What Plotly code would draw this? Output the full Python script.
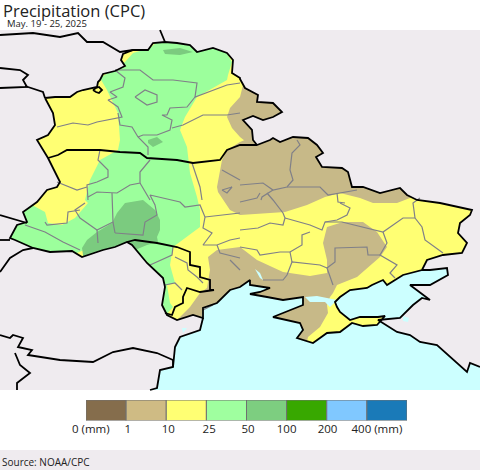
import plotly.graph_objects as go

# ---- text and legend data ----
TITLE = "Precipitation (CPC)"
SUBTITLE = "May. 19 - 25, 2025"
SOURCE = "Source: NOAA/CPC"
LEGEND_COLORS = ["#856D4C", "#CFBB84", "#FFFF73", "#9FFF9F", "#7DCE80", "#38A800", "#80C8FF", "#1A7AB8"]
LEGEND_TICKS = [0.12, 1.04, 2.05, 3.07, 4.04, 5.0, 6.02, 7.25]
LEGEND_LABELS = ["0 (mm)", "1", "10", "25", "50", "100", "200", "400 (mm)"]

LAND = "#EFEBEF"
SEA = "#CCFFFF"
YELLOW = "#FFFF73"
LGREEN = "#9CFF9C"
MGREEN = "#7BCB7F"
TAN = "#C7B988"
BORDER_GREY = "#808088"

# ---- map geometry (map units) ----
UA_LAND = [(45,98),(55,97),(70,97),(77,92),(83,90),(93,88),(97,87),(98,82),(100,80),(103,74),(115,71),(125,66),(121,60),(123,54),
 (133,50),(148,50),(153,43),(165,42),(177,43),(190,45),(197,52),(213,48),(227,53),(233,60),(232,73),(240,78),(240,79),(245,88),
 (258,95),(257,102),(273,103),(282,112),(273,117),(263,120),(253,116),(243,120),(252,130),(253,140),(257,145),(270,140),(273,138),
 (280,142),(293,137),(308,138),(317,145),(323,153),(316,157),(322,167),(342,168),(348,172),(352,187),(363,187),(380,193),(400,188),
 (407,195),(417,200),(440,203),(472,210),(470,215),(460,223),(458,233),(467,243),(462,253),(443,255),(427,260)]
UA_COAST = [(422,270),(403,275),(387,285),(383,280),(372,285),(367,288),(350,290),(347,292),(340,297),(335,302),(337,307),(340,312),
 (350,320),(360,317),(378,317),(385,316),(377,325),(363,326),(352,323),(340,332),(327,333),(313,343),(297,338),(303,330),(300,323),
 (273,317),(290,310),(303,305),(303,297),(283,300),(267,297),(250,294),(260,292),(270,288),(250,285),(250,280),(240,287),(230,290),
 (217,303),(203,308),(203,318),(193,315),(177,320),(167,315),(162,305)]
UA_WEST = [(165,287),(163,278),(147,263),(132,245),(127,242),(115,247),(103,250),(82,257),(72,251),(50,252),(33,248),(15,240),(10,238),
 (17,225),(27,222),(23,212),(37,202),(47,190),(57,187),(60,182),(48,158),(37,140),(48,135),(55,125),(53,113)]
WEST_SEA_COAST = [(150,390),(157,388),(160,370),(173,367),(175,347),(180,337),(200,330),(203,318)]
RU_COAST = [(430,270),(447,268),(448,275),(430,285),(410,285),(430,300),(422,298),(413,305),(400,318),(378,320),(397,332),(410,335),
 (420,342),(437,345),(467,372),(470,363),(480,367)]

# rainfall zones
ZONE_GREEN = [(100,78),(125,62),(133,53),(150,48),(165,35),(200,40),(225,50),(232,62),(228,75),(227,80),(197,97),(185,117),(180,130),
 (187,147),(190,173),(197,197),(200,210),(200,227),(173,247),(170,265),(175,283),(167,285),(170,303),(173,307),(165,316),(155,300),
 (150,265),(120,235),(60,260),(10,245),(5,235),(15,215),(32,205),(45,212),(48,223),(62,225),(75,218),(88,203),(85,200),(90,180),
 (100,160),(118,150),(120,140),(118,113),(107,90)]
ZONE_MID = [(83,255),(82,248),(87,240),(97,232),(112,223),(117,213),(125,203),(143,200),(155,210),(160,220),(160,230),(157,237),
 (158,242),(147,245),(135,250),(125,255),(85,265)]
ZONE_MID_N = [(163,50),(180,48),(193,52),(180,55),(165,54)]
ZONE_MID_C = [(148,140),(157,137),(163,142),(153,147),(148,143)]
ZONE_TAN_N = [(243,85),(240,97),(230,108),(227,117),(232,128),(240,137),(245,141),(260,160),(290,125),(265,85)]
ZONE_TAN_MAIN = [(240,142),(227,150),(222,160),(217,187),(218,192),(230,210),(240,215),(285,212),(307,205),(325,197),(340,193),(360,198),
 (373,203),(397,203),(410,198),(415,190),(380,170),(340,130),(280,125)]
ZONE_TAN_S = [(240,247),(257,260),(283,272),(310,276),(327,273),(327,260),(323,243),(327,227),(343,222),(363,222),(377,232),(387,247),
 (380,257),(357,277),(337,285),(333,293),(330,297),(327,305),(328,313),(320,327),(308,337),(305,350),(250,350),(180,330),(177,320),
 (190,307),(200,293),(207,288),(210,270),(208,257),(217,250)]

WATER_PATCHES = [
 [(305,297),(317,296),(327,298),(337,300),(330,307),(325,302),(310,302)],
 [(255,269),(260,273),(263,280),(260,278)],
 [(182,328),(187,328),(183,333)],
 [(403,316),(409,318),(408,322),(403,321)],
]

BLACK_LINES = [
 [(48,158),(58,155),(67,150),(100,150),(120,152),(140,153),(147,158),(177,160),(193,163),(220,160),(227,150),(240,145),(257,145)],
 [(127,242),(135,240),(157,243),(177,247),(190,252),(190,265),(200,267),(200,277),(210,280),(210,290),(214,290),(200,292),(187,288),
  (183,297),(183,303),(175,307),(172,315),(165,313)],
 [(0,35),(33,33),(60,37),(78,33),(87,42),(103,42),(120,52),(133,50)],
 [(160,30),(165,42)],
 [(0,68),(20,70),(28,75),(23,80),(27,87),(0,88)],
 [(25,86),(43,92),(45,98)],
 [(0,215),(10,218),(27,223)],
 [(0,240),(10,240)],
 [(0,272),(10,258),(23,250),(33,248)],
 [(0,335),(10,338),(13,335),(23,338),(18,347),(32,350),(28,355),(60,360),(93,362),(113,352),(133,348),(157,353),(173,360)],
 [(15,353),(20,365),(30,373),(17,383),(17,390)],
 [(173,360),(173,367)],
 WEST_SEA_COAST,
 UA_COAST[:1] + RU_COAST,
 [(93,90),(96,92),(99,93),(102,90),(99,87),(96,88),(93,90)],
]

GREY_LINES = [
 [(115,70),(140,70),(153,80),(173,80),(197,83),(195,97),(227,85),(240,83)],
 [(115,70),(125,78),(123,87),(110,92),(117,97),(108,100),(118,107),(122,117),(97,122),(88,125),(73,123),(57,127)],
 [(118,113),(120,125),(132,127),(138,137),(148,147),(148,155)],
 [(195,97),(187,107),(170,108),(167,115),(162,115),(172,120),(170,130),(157,135),(143,135),(138,137)],
 [(172,128),(183,125),(203,115),(227,115),(240,113)],
 [(135,97),(145,90),(157,95),(157,102),(147,105),(140,100),(135,97)],
 [(100,150),(98,160),(108,170),(108,177),(97,182),(87,185),(88,200)],
 [(57,182),(77,190),(87,187)],
 [(150,160),(140,172),(140,183),(130,185),(117,193),(97,192),(88,197)],
 [(140,183),(150,200)],
 [(192,163),(200,187),(202,200)],
 [(222,170),(240,180)],
 [(222,190),(232,187),(227,193),(222,190)],
 [(297,140),(300,145),(292,153),(290,170),(293,180),(287,187),(273,190),(263,183),(240,185)],
 [(287,187),(308,187),(320,187),(328,195),(347,192),(357,190)],
 [(273,190),(262,197),(261,200)],
 [(25,225),(45,232),(63,242),(80,250)],
 [(45,222),(47,225),(67,223),(68,212),(80,210)],
 [(85,203),(75,210),(80,218),(97,230),(113,222),(112,193)],
 [(97,230),(98,243)],
 [(115,233),(143,235),(145,222),(157,215),(155,205),(150,195),(180,202),(185,207),(200,205),(205,217),(203,228),(212,233),(203,245),
  (217,245),(230,240),(240,238)],
 [(113,222),(115,233)],
 [(205,217),(240,213)],
 [(173,247),(172,255),(150,265)],
 [(175,257),(187,263),(188,270),(197,277),(203,283)],
 [(165,285),(175,283),(182,290)],
 [(217,245),(220,253),(240,258)],
 [(230,260),(240,270)],
 [(203,310),(213,305)],
 [(240,230),(258,228),(270,223),(283,225),(285,218),(283,213),(273,200),(267,193)],
 [(240,202),(257,198),(260,193)],
 [(285,218),(310,225),(322,230),(325,222),(342,222),(383,232),(403,218),(415,218),(413,203),(420,198)],
 [(340,203),(350,208),(347,215),(337,220),(325,222)],
 [(337,193),(338,202),(345,203)],
 [(415,218),(422,227),(425,240),(443,253)],
 [(383,232),(387,243),(380,255),(397,265),(390,273),(395,278)],
 [(380,255),(368,255),(367,247),(335,248),(335,262),(327,268),(333,285)],
 [(327,268),(320,265),(292,262),(290,268),(287,275),(283,280),(263,280)],
 [(292,262),(290,252),(280,252),(260,255),(257,250),(240,247)],
 [(290,252),(302,245),(302,235),(310,232)],
]

UKRAINE = UA_LAND + UA_COAST + UA_WEST


def xs(points):
    return [p[0] for p in points]


def ys(points):
    return [p[1] for p in points]


fig = go.Figure()


def add_fill(points, color):
    pts = list(points) + [points[0]]
    fig.add_trace(go.Scatter(x=xs(pts), y=ys(pts), mode="lines", fill="toself", fillcolor=color,
                             line=dict(width=0, color=color), hoverinfo="skip", showlegend=False))


def add_line(points, color, width):
    fig.add_trace(go.Scatter(x=xs(points), y=ys(points), mode="lines", line=dict(color=color, width=width),
                             hoverinfo="skip", showlegend=False))


# rainfall zones, painted first and trimmed by the land and sea layers
add_fill(UKRAINE, YELLOW)
add_fill(ZONE_GREEN, LGREEN)
add_fill(ZONE_MID, MGREEN)
add_fill(ZONE_MID_N, MGREEN)
add_fill(ZONE_MID_C, MGREEN)
add_fill(ZONE_TAN_N, TAN)
add_fill(ZONE_TAN_MAIN, TAN)
add_fill(ZONE_TAN_S, TAN)

# foreign land: rectangle with the country cut out through a seam at its northern tip
top = UKRAINE.index((165, 42))
ring = UKRAINE[top:] + UKRAINE[:top] + [(165, 42)]
outer = [(165,30),(0,30),(0,390),(480,390),(480,30),(165,30)]
add_fill(outer + ring, LAND)

# sea, bounded by the same coast as the country
sea = WEST_SEA_COAST[:-1] + UA_COAST[::-1][5:] + RU_COAST + [(480,390)]
add_fill(sea, SEA)
for patch in WATER_PATCHES:
    add_fill(patch, SEA)

for line in GREY_LINES:
    add_line(line, BORDER_GREY, 1.2)
add_line(UKRAINE + [UKRAINE[0]], "#000000", 1.8)
for line in BLACK_LINES:
    add_line(line, "#000000", 1.8)

# colour key
fig.add_trace(go.Bar(x=[i + 0.5 for i in range(len(LEGEND_COLORS))], y=[1] * len(LEGEND_COLORS), width=1,
                     marker=dict(color=LEGEND_COLORS, line=dict(color="#707070", width=1)),
                     xaxis="x2", yaxis="y2", hoverinfo="skip", showlegend=False))

W, H = 480, 470
fig.update_layout(
    template="none",
    width=W, height=H, margin=dict(l=0, r=0, t=0, b=0, pad=0), paper_bgcolor="white", plot_bgcolor="rgba(0,0,0,0)",
    autosize=False, showlegend=False,
    xaxis=dict(range=[0, W], domain=[0, 1], visible=False, fixedrange=True, automargin=False),
    yaxis=dict(range=[H, 0], domain=[0, 1], visible=False, fixedrange=True, automargin=False),
    xaxis2=dict(range=[0, 8], domain=[86 / W, 407 / W], anchor="y2", showgrid=False, zeroline=False, showline=False,
                tickmode="array", tickvals=LEGEND_TICKS, ticktext=LEGEND_LABELS, ticks="", ticklen=0, automargin=False,
                tickfont=dict(family="Open Sans", size=11.5, color="#222222"), fixedrange=True, tickangle=0),
    yaxis2=dict(range=[0, 1], domain=[(H - 420.5) / H, (H - 400) / H], anchor="x2", visible=False, fixedrange=True,
                automargin=False),
    shapes=[dict(type="rect", xref="x", yref="y", x0=0, x1=W, y0=450, y1=H, fillcolor=LAND, line_width=0, layer="below")],
    annotations=[
        dict(text=TITLE, x=1, y=10, xref="x", yref="y", xanchor="left", yanchor="middle", showarrow=False,
             font=dict(family="Open Sans", size=16.5, color="#222222")),
        dict(text=SUBTITLE, x=5, y=23.5, xref="x", yref="y", xanchor="left", yanchor="middle", showarrow=False,
             font=dict(family="Open Sans", size=9.5, color="#222222")),
        dict(text=SOURCE, x=0, y=462, xref="x", yref="y", xanchor="left", yanchor="middle", showarrow=False,
             font=dict(family="Open Sans", size=10, color="#222222")),
    ],
)

fig.write_html("out.html", config=dict(displayModeBar=False),
               post_script="document.body.style.margin='0';document.body.style.overflow='hidden';")
